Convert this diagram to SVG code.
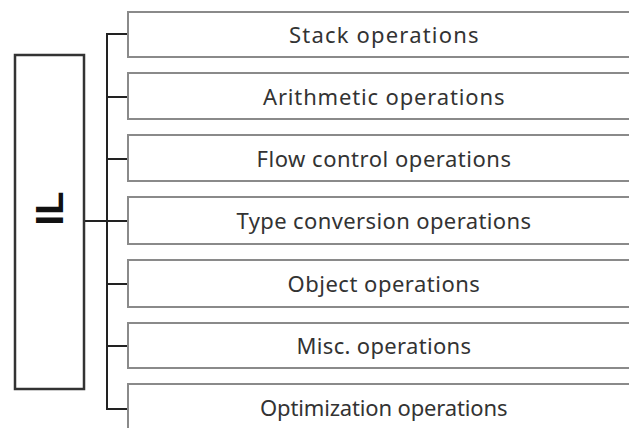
<svg xmlns="http://www.w3.org/2000/svg" width="629" height="428" viewBox="0 0 629 428">
<style>
.box{fill:#fff;stroke:#8a8a8a;stroke-width:2}
.lbl{font-family:"Noto Sans","Open Sans",sans-serif;font-size:22px;fill:#333;text-anchor:middle;letter-spacing:0.5px}
.conn{fill:none;stroke:#222;stroke-width:2}
</style>
<rect width="629" height="428" fill="#fff"/>
<g id="connectors">
<path class="conn" d="M128,34 H107 V409 H128"/>
<path class="conn" d="M107,97 H128 M107,159 H128 M107,284 H128 M107,346 H128"/>
<path class="conn" d="M84,221 H128" stroke-width="1.6"/>
</g>
<g id="il">
<rect x="15" y="55" width="69" height="334" fill="#fff" stroke="#333" stroke-width="2.5"/>
<text transform="translate(63,208.5) rotate(-90)" font-family="'Liberation Sans', Arial, sans-serif" font-weight="bold" font-size="38" fill="#111" text-anchor="middle">IL</text>
</g>
<g id="n1"><rect class="box" x="128" y="12" width="520" height="45"/><text class="lbl" x="384" y="43" textLength="190" lengthAdjust="spacing">Stack operations</text></g>
<g id="n2"><rect class="box" x="128" y="73" width="520" height="46"/><text class="lbl" x="384" y="105" textLength="242" lengthAdjust="spacing">Arithmetic operations</text></g>
<g id="n3"><rect class="box" x="128" y="135" width="520" height="46"/><text class="lbl" x="384" y="167" textLength="255" lengthAdjust="spacing">Flow control operations</text></g>
<g id="n4"><rect class="box" x="128" y="197" width="520" height="47"/><text class="lbl" x="384" y="229" textLength="295" lengthAdjust="spacing">Type conversion operations</text></g>
<g id="n5"><rect class="box" x="128" y="260" width="520" height="47"/><text class="lbl" x="384" y="292">Object operations</text></g>
<g id="n6"><rect class="box" x="128" y="323" width="520" height="45"/><text class="lbl" x="384" y="354" textLength="175" lengthAdjust="spacing">Misc. operations</text></g>
<g id="n7"><rect class="box" x="128" y="384" width="520" height="60"/><text class="lbl" x="384" y="416" textLength="248" lengthAdjust="spacing">Optimization operations</text></g>
</svg>
